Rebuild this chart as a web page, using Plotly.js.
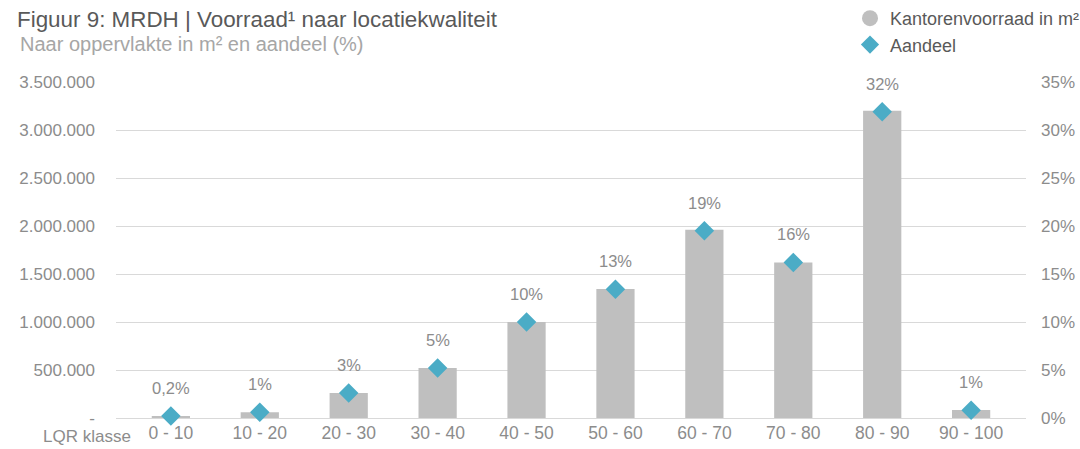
<!DOCTYPE html>
<html><head><meta charset="utf-8">
<script src="https://cdn.plot.ly/plotly-3.0.1.min.js"></script>
<style>html,body{margin:0;padding:0;background:#fff}#chart{width:1080px;height:449px}</style>
</head><body><div id="chart"></div>
<script>
const categories = ["0 - 10","10 - 20","20 - 30","30 - 40","40 - 50","50 - 60","60 - 70","70 - 80","80 - 90","90 - 100"];
const stockM2 = [20000, 60000, 260000, 520000, 1000000, 1345000, 1960000, 1620000, 3200000, 83000];
const sharePct = [0.2, 0.6, 2.6, 5.2, 10.0, 13.4, 19.5, 16.2, 31.9, 0.8];
const shareLabels = ["0,2%","1%","3%","5%","10%","13%","19%","16%","32%","1%"];
const leftTickVals = [0,500000,1000000,1500000,2000000,2500000,3000000,3500000];
const leftTickText = ["-","500.000","1.000.000","1.500.000","2.000.000","2.500.000","3.000.000","3.500.000"];
const rightTickVals = [0,5,10,15,20,25,30,35];
const rightTickText = ["0%","5%","10%","15%","20%","25%","30%","35%"];

const FONT = "Liberation Sans, Arial, sans-serif";
const GRAY = "#8c8c8c";
const BAR = "#bfbfbf";
const TEAL = "#4bacc6";

const traces = [
  {type:"bar", x:categories, y:stockM2, marker:{color:BAR}, showlegend:false, hoverinfo:"skip"},
  {type:"scatter", mode:"markers", x:categories, y:sharePct, yaxis:"y2",
   marker:{symbol:"diamond", size:15, color:TEAL}, showlegend:false, hoverinfo:"skip", cliponaxis:false},
  {type:"scatter", mode:"markers", x:[null], y:[null], name:"Kantorenvoorraad in m²",
   marker:{symbol:"circle", size:16, color:BAR}},
  {type:"scatter", mode:"markers", x:[null], y:[null], name:"Aandeel", yaxis:"y2",
   marker:{symbol:"diamond", size:14, color:TEAL}}
];

const annotations = categories.map((c,i)=>({
  x:c, y:sharePct[i], xref:"x", yref:"y2", text:shareLabels[i], showarrow:false,
  yshift:28, font:{family:FONT, size:16.5, color:GRAY}
}));
annotations.push({xref:"paper", yref:"paper", x:0.0187, y:-0.0565, xanchor:"right", yanchor:"middle",
  text:"LQR klasse", showarrow:false, font:{family:FONT, size:17, color:GRAY}});
annotations.push({xref:"paper", yref:"paper", x:-0.1077, y:1+(82-44)/336, xanchor:"left", yanchor:"middle",
  text:"Naar oppervlakte in m² en aandeel (%)", showarrow:false,
  font:{family:FONT, size:20, color:"#a6a6a6"}});

const layout = {
  width:1080, height:449,
  margin:{l:116, r:54, t:82, b:31, autoexpand:false},
  paper_bgcolor:"#fff", plot_bgcolor:"#fff",
  font:{family:FONT, color:GRAY},
  title:{text:"Figuur 9: MRDH | Voorraad¹ naar locatiekwaliteit", x:17/1080, xanchor:"left", y:1-19/449, yanchor:"middle",
    font:{family:FONT, size:22.4, color:"#595959"}},
  bargap:0.57,
  xaxis:{type:"category", tickfont:{family:FONT, size:17.5, color:GRAY}, showgrid:false, zeroline:false,
    showline:false, ticks:"", ticklabelstandoff:2},
  yaxis:{range:[0,3500000], tickvals:leftTickVals, ticktext:leftTickText, showgrid:true, gridcolor:"#d9d9d9",
    gridwidth:1, zeroline:true, zerolinecolor:"#d9d9d9", showline:false, ticks:"",
    tickfont:{family:FONT, size:17, color:GRAY}, ticklabelstandoff:20, automargin:false},
  yaxis2:{range:[0,35], overlaying:"y", side:"right", tickvals:rightTickVals, ticktext:rightTickText,
    showgrid:false, zeroline:false, showline:false, ticks:"",
    tickfont:{family:FONT, size:17, color:GRAY}, ticklabelstandoff:14, automargin:false},
  legend:{x:(850-116)/910, xanchor:"left", y:1+82/336, yanchor:"top", bgcolor:"rgba(0,0,0,0)",
    font:{family:FONT, size:18, color:"#595959"}, itemwidth:30, tracegroupgap:0},
  annotations:annotations,
  showlegend:true
};
Plotly.newPlot("chart", traces, layout, {displayModeBar:false, staticPlot:true});
</script></body></html>
